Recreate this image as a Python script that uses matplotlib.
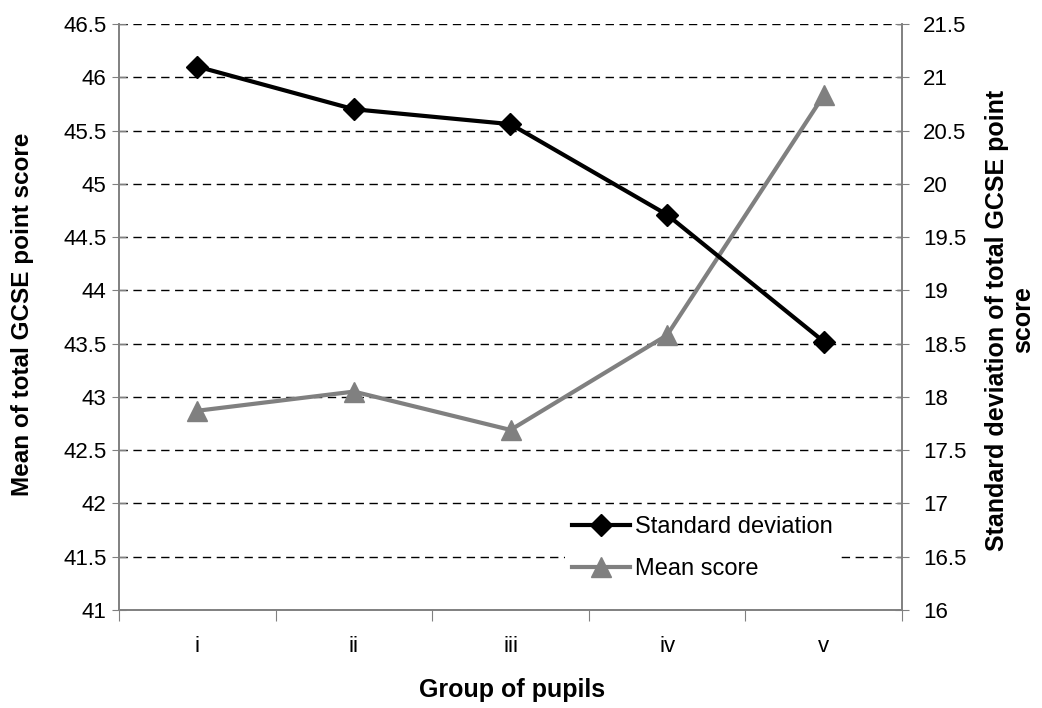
import matplotlib.pyplot as plt
import matplotlib.ticker as mticker

plt.rcParams['font.family'] = ['Liberation Sans', 'DejaVu Sans']

groups = ['i', 'ii', 'iii', 'iv', 'v']
std_dev = [21.1, 20.7, 20.56, 19.71, 18.52]
mean_score = [42.87, 43.05, 42.69, 43.58, 45.83]

W, H = 1042, 708
fig = plt.figure(figsize=(W / 100, H / 100), dpi=100)
ax = fig.add_axes([119 / W, 1 - 610 / H, 783 / W, 586 / H])
ax2 = ax.twinx()

x = list(range(len(groups)))

# mean on left axis, std dev on right axis
l2, = ax.plot(x, mean_score, color='#808080', lw=3, marker='^', ms=14,
              label='Mean score', zorder=3)
l1, = ax2.plot(x, std_dev, color='black', lw=3, marker='D', ms=11,
               label='Standard deviation', zorder=4)

ax.set_xlim(-0.5, 4.5)
ax.set_ylim(41, 46.5)
ax2.set_ylim(16, 21.5)
ax.yaxis.set_major_locator(mticker.MultipleLocator(0.5))
ax2.yaxis.set_major_locator(mticker.MultipleLocator(0.5))
fmt = mticker.FuncFormatter(lambda v, p: f'{v:g}')
ax.yaxis.set_major_formatter(fmt)
ax2.yaxis.set_major_formatter(fmt)

# categories sit in bands, ticks between them
ax.set_xticks([i - 0.5 for i in range(6)])
ax.set_xticklabels([])
ax.set_xticks(x, minor=True)
ax.set_xticklabels(groups, minor=True)
ax.tick_params(axis='x', which='minor', length=0, pad=19, labelsize=16)
ax.tick_params(axis='x', which='major', length=8, direction='out', color='#808080')
ax.tick_params(axis='y', direction='inout', length=10, color='#808080', labelsize=16, pad=4)
ax2.tick_params(axis='y', direction='inout', length=10, color='#808080', labelsize=16, pad=10)

ax.yaxis.grid(True, color='black', linestyle=(0, (6, 4)), lw=1)
ax.set_axisbelow(True)

for a in (ax, ax2):
    a.spines['top'].set_visible(False)
    for s in ('left', 'right', 'bottom'):
        a.spines[s].set_color('#808080')
        a.spines[s].set_linewidth(1.2)

fig.text(512 / W, 1 - 690 / H, 'Group of pupils', fontsize=18, fontweight='bold',
         ha='center', va='center')
fig.text(23 / W, 1 - 314 / H, 'Mean of total GCSE point score', fontsize=17.5,
         fontweight='bold', rotation=90, ha='center', va='center')
fig.text(1010 / W, 1 - 320 / H, 'Standard deviation of total GCSE point\nscore',
         fontsize=18, fontweight='bold', rotation=90, ha='center', va='center',
         multialignment='center', linespacing=1.15)

leg = ax2.legend(handles=[l1, l2], loc='upper left', bbox_to_anchor=(565 / W, 1 - 509 / H),
                 bbox_transform=fig.transFigure, borderaxespad=0,
                 frameon=True, fontsize=17, handlelength=2.45, handletextpad=0.2,
                 borderpad=0.3, labelspacing=0.85)
leg.get_frame().set_facecolor('white')
leg.get_frame().set_edgecolor('none')
leg.get_frame().set_alpha(1)

fig.savefig('out.png', dpi=100)
